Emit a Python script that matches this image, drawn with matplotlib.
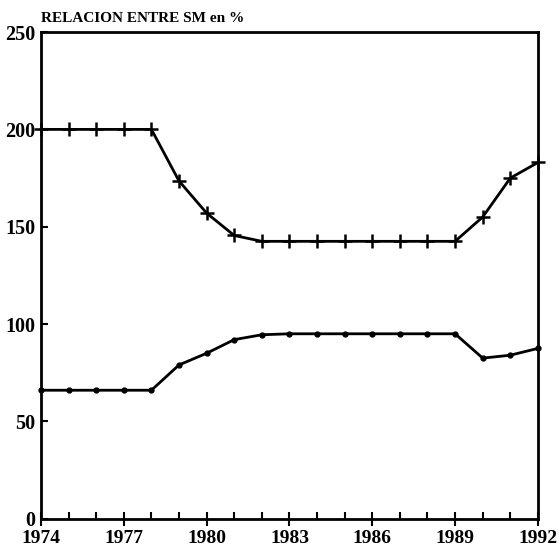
import matplotlib
matplotlib.use("Agg")
import matplotlib.pyplot as plt

years = list(range(1974, 1993))
# upper series (crosses)
upper = [200, 200, 200, 200, 200, 173.5, 157, 145.5, 142.5, 142.5, 142.5, 142.5,
         142.5, 142.5, 142.5, 142.5, 155, 175, 183]
# lower series (dots)
lower = [66, 66, 66, 66, 66, 79, 85, 92, 94.5, 95, 95, 95, 95, 95, 95, 95,
         82.5, 84, 87.5]

year_ticks = [1974, 1977, 1980, 1983, 1986, 1989, 1992]
y_ticks = [0, 50, 100, 150, 200, 250]

plt.rcParams['font.family'] = ['Liberation Serif', 'DejaVu Serif']
plt.rcParams['font.weight'] = 'bold'

fig = plt.figure(figsize=(5.59, 5.53), dpi=100)
ax = fig.add_axes([0.0733, 0.062, 0.889, 0.88])

ax.plot(years, upper, color='black', lw=2, marker='+', ms=9.5, mew=1.8, clip_on=False)
ax.plot(years, lower, color='black', lw=2, marker='o', ms=3.5, clip_on=False)

ax.set_xlim(1974, 1992)
ax.set_ylim(0, 250)
ax.set_xticks(year_ticks)
ax.set_xticks(years, minor=True)
ax.set_yticks(y_ticks)
ax.tick_params(axis='x', which='major', direction='inout', length=10, width=1.5, labelsize=14, pad=3)
ax.tick_params(axis='x', which='minor', direction='in', length=5, width=1.5)
ax.tick_params(axis='y', which='major', direction='in', length=5, width=1.5, labelsize=14.5, pad=4)
for lab in ax.get_xticklabels() + ax.get_yticklabels():
    lab.set_fontweight('bold')
for sp in ax.spines.values():
    sp.set_linewidth(2)

fig.text(0.0733, 0.955, 'RELACION ENTRE SM en %', fontsize=11, fontweight='bold',
         ha='left', va='bottom')

fig.savefig('out.png', dpi=100)
